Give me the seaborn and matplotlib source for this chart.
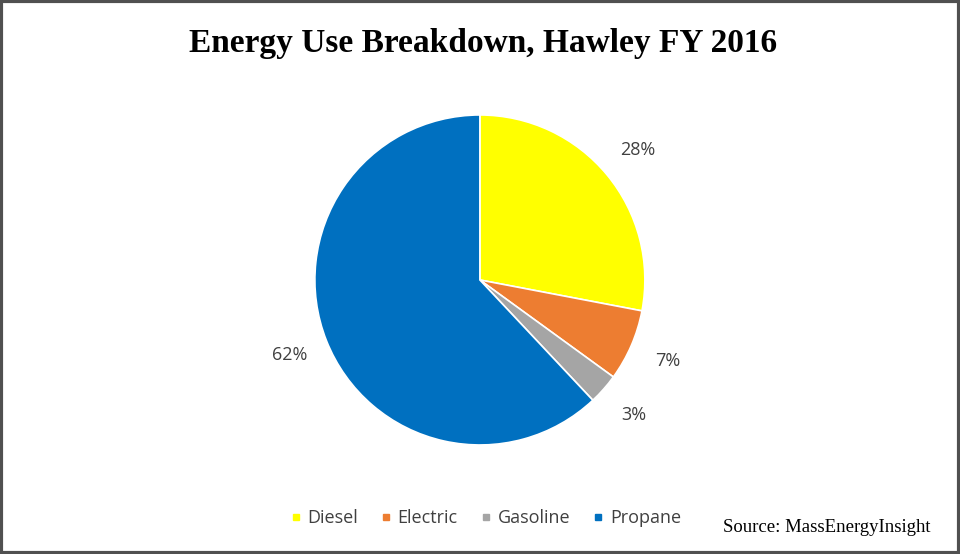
import matplotlib
matplotlib.use("Agg")
import matplotlib.pyplot as plt
from matplotlib.patches import Rectangle
from matplotlib.lines import Line2D
import seaborn as sns

categories = ["Diesel", "Electric", "Gasoline", "Propane"]
values = [28, 7, 3, 62]
colors = ["#FFFF00", "#ED7D31", "#A5A5A5", "#0070C0"]
title = "Energy Use Breakdown, Hawley FY 2016"
source = "Source: MassEnergyInsight"

sns.set_theme(style="white")
plt.rcParams['font.family'] = ['DejaVu Sans']
palette = sns.color_palette(colors)

fig = plt.figure(figsize=(9.6, 5.54), dpi=100)
ax = fig.add_axes([0.328, 0.1968, 0.34375, 0.5957])
wedges, texts, autotexts = ax.pie(
    values, colors=palette, startangle=90, counterclock=False,
    autopct=lambda p: f"{p:.0f}%", pctdistance=1.24,
    wedgeprops=dict(edgecolor="white", linewidth=1.2),
    textprops=dict(color="#404040", fontsize=13, family="Open Sans"))
ax.set_xlim(-1, 1)
ax.set_ylim(-1, 1)
ax.set_aspect("equal")
ax.axis("off")

fig.text(0.503, 0.922, title, ha="center", va="center", fontsize=24,
         fontweight="bold", family="Liberation Serif", color="black")

handles = [Line2D([0], [0], marker="s", linestyle="", markersize=5,
                  markerfacecolor=c, markeredgecolor=c) for c in palette]
fig.legend(handles, categories, loc="center", bbox_to_anchor=(0.503, 0.065),
           ncol=4, frameon=False, handletextpad=0.05, columnspacing=0.95,
           handlelength=1.2, prop=dict(family="Open Sans", size=13),
           labelcolor="#404040")

fig.text(0.969, 0.048, source, ha="right", va="center", fontsize=13.5,
         family="Liberation Serif", color="black")

fig.patches.append(Rectangle((0.0015, 0.002), 0.997, 0.996, transform=fig.transFigure,
                             fill=False, edgecolor="#505050", linewidth=3))

fig.savefig("out.png", dpi=100)
